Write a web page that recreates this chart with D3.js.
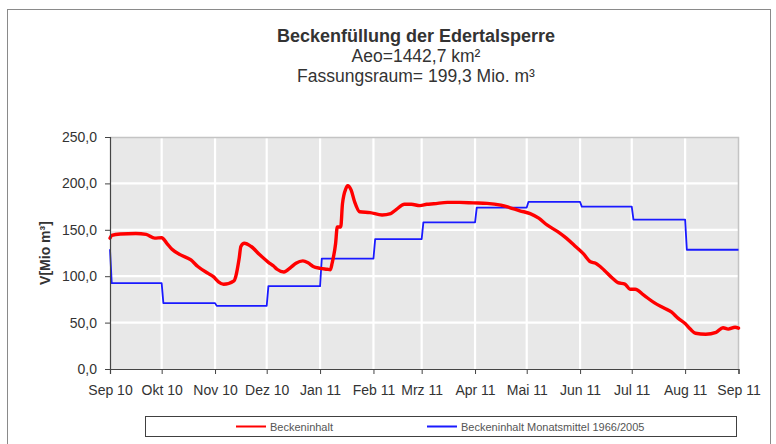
<!DOCTYPE html>
<html><head><meta charset="utf-8">
<script src="https://cdn.jsdelivr.net/npm/d3@7"></script>
<style>
body{margin:0;background:#fff}
svg{display:block}
text{font-family:Arial,"Liberation Sans",sans-serif}
</style>
</head><body>
<svg id="c" width="776" height="444"></svg>
<script>
// ---- data ----
const redDates = ["2010-09-01","2010-09-02","2010-09-07","2010-09-16","2010-09-22","2010-09-27","2010-10-01","2010-10-04","2010-10-07","2010-10-12","2010-10-18","2010-10-22","2010-10-28","2010-10-31","2010-11-03","2010-11-06","2010-11-12","2010-11-13","2010-11-15","2010-11-16","2010-11-18","2010-11-22","2010-11-27","2010-12-02","2010-12-05","2010-12-07","2010-12-11","2010-12-15","2010-12-18","2010-12-22","2010-12-25","2010-12-28","2011-01-01","2011-01-05","2011-01-07","2011-01-08","2011-01-10","2011-01-11","2011-01-13","2011-01-14","2011-01-16","2011-01-17","2011-01-19","2011-01-21","2011-01-24","2011-01-30","2011-02-06","2011-02-11","2011-02-14","2011-02-19","2011-02-23","2011-02-28","2011-03-04","2011-03-08","2011-03-16","2011-03-23","2011-03-31","2011-04-08","2011-04-16","2011-04-21","2011-04-27","2011-05-03","2011-05-08","2011-05-13","2011-05-19","2011-05-24","2011-05-29","2011-06-03","2011-06-07","2011-06-10","2011-06-15","2011-06-20","2011-06-23","2011-06-27","2011-06-30","2011-07-03","2011-07-08","2011-07-14","2011-07-20","2011-07-24","2011-07-28","2011-08-01","2011-08-04","2011-08-07","2011-08-13","2011-08-19","2011-08-23","2011-08-26","2011-08-30","2011-09-01"];
const redValues = [141,144,145.5,146,145,141,141.5,135.5,129,123,117.5,110.5,103,99.5,94,91.3,95,99.5,119,132,135.5,132,123,115,111,107.5,104.5,109.5,114,116.5,114.5,110.5,108.5,107.5,107,114,135,153,153,178,194.5,197.5,193,180.5,169.5,168.5,166,167.5,171.5,177.5,177.5,176,177.5,178,179.5,179.5,179,178.5,176.5,174,170.5,167.5,162.5,155,148,141,132.5,124,115.5,114,106.5,97.5,93,91.5,86,86,79.5,71.5,65.5,61.5,54.5,49,43,38.5,37.5,39.5,44.5,43,45,44];

const blueMonths = ["2010-09-01","2010-10-01","2010-11-01","2010-12-01","2011-01-01","2011-02-01","2011-03-01","2011-04-01","2011-05-01","2011-06-01","2011-07-01","2011-08-01","2011-09-01"];
const blueStartValue = 129;
const blueValues = [92.5,71,68,89.3,119,140,158,174,180,175,161,128.5];

const xTickDates = blueMonths;
const xTickLabels = ["Sep 10","Okt 10","Nov 10","Dez 10","Jan 11","Feb 11","Mrz 11","Apr 11","Mai 11","Jun 11","Jul 11","Aug 11","Sep 11"];
const yTickValues = [0,50,100,150,200,250];
const yTickLabels = ["0,0","50,0","100,0","150,0","200,0","250,0"];

const titleLines = ["Beckenfüllung der Edertalsperre","Aeo=1442,7 km²","Fassungsraum= 199,3 Mio. m³"];
const yTitle = "V[Mio m³]";
const seriesNames = ["Beckeninhalt","Beckeninhalt Monatsmittel 1966/2005"];

// ---- layout ----
const svg = d3.select("#c");
const P = {l:110, r:739, t:137, b:369};
const parse = d3.utcParse("%Y-%m-%d");
const x = d3.scaleUtc().domain([parse("2010-09-01"), parse("2011-09-01")]).range([P.l, P.r - 0.5]);
const y = d3.scaleLinear().domain([0,250]).range([P.b, P.t]);

// outer frame
svg.append("rect").attr("x",7.5).attr("y",9.5).attr("width",763).attr("height",450)
  .attr("fill","#fff").attr("stroke","#8a8a8a").attr("stroke-width",1);

// titles
const tSizes = [18, 17.5, 17.5], tWeights = ["bold","normal","normal"], tY = [42, 62, 82];
titleLines.forEach((t,i)=>{
  svg.append("text").attr("x",416).attr("y",tY[i]).attr("text-anchor","middle")
    .attr("font-size",tSizes[i]).attr("font-weight",tWeights[i]).attr("fill","#333").text(t);
});

// plot background
svg.append("rect").attr("x",P.l).attr("y",P.t).attr("width",P.r-P.l).attr("height",P.b-P.t)
  .attr("fill","#e8e8e8");

// grid
const g = svg.append("g");
g.selectAll("line.h").data(yTickValues.slice(1)).join("line")
  .attr("x1",P.l).attr("x2",P.r).attr("y1",d=>y(d)).attr("y2",d=>y(d))
  .attr("stroke","#fff").attr("stroke-width",2.2);
g.selectAll("line.v").data(xTickDates.slice(1,-1)).join("line")
  .attr("x1",d=>x(parse(d))).attr("x2",d=>x(parse(d))).attr("y1",P.t).attr("y2",P.b)
  .attr("stroke","#fff").attr("stroke-width",2.2);

// plot border top/right
svg.append("path").attr("d",`M${P.l},${P.t+0.5}H${P.r-0.5}V${P.b}`).attr("fill","none")
  .attr("stroke","#c4c4c4").attr("stroke-width",1.5);

// blue step series
const blueData = [{d:parse(blueMonths[0]), v:blueStartValue}];
blueValues.forEach((v,i)=>{
  blueData.push({d:d3.utcDay.offset(parse(blueMonths[i]),1), v});
  blueData.push({d:parse(blueMonths[i+1]), v});
});
const lineB = d3.line().x(d=>x(d.d)).y(d=>y(d.v));
svg.append("path").datum(blueData).attr("d",lineB).attr("fill","none")
  .attr("stroke","#1a1aff").attr("stroke-width",1.8).attr("stroke-linejoin","round");

// red series
const redData = redDates.map((d,i)=>({d:parse(d), v:redValues[i]}));
const lineR = d3.line().x(d=>x(d.d)).y(d=>y(d.v)).curve(d3.curveMonotoneX);
svg.append("path").datum(redData).attr("d",lineR).attr("fill","none")
  .attr("stroke","#ff0000").attr("stroke-width",3.4).attr("stroke-linejoin","round").attr("stroke-linecap","round");

// axes
const yAxis = d3.axisLeft(y).tickValues(yTickValues).tickSize(5).tickPadding(8)
  .tickFormat((d,i)=>yTickLabels[i]);
const ya = svg.append("g").attr("transform",`translate(${P.l},0)`).call(yAxis);
const xAxis = d3.axisBottom(x).tickValues(xTickDates.map(parse)).tickSize(5).tickPadding(11)
  .tickFormat((d,i)=>xTickLabels[i]);
const xa = svg.append("g").attr("transform",`translate(0,${P.b})`).call(xAxis);
[ya,xa].forEach(a=>{
  a.select(".domain").attr("stroke","#444").attr("stroke-width",1.2);
  a.selectAll(".tick line").attr("stroke","#444");
  a.selectAll(".tick text").attr("font-size",14).attr("fill","#333")
    .attr("font-family",'Arial,"Liberation Sans",sans-serif');
});

// y title
svg.append("text").attr("transform",`translate(50,${(P.t+P.b)/2}) rotate(-90)`)
  .attr("text-anchor","middle").attr("font-size",14).attr("font-weight","bold").attr("fill","#333")
  .text(yTitle);

// legend
const L = {x:145, y:416, w:591, h:20};
svg.append("rect").attr("x",L.x+0.5).attr("y",L.y+0.5).attr("width",L.w).attr("height",L.h)
  .attr("fill","#fff").attr("stroke","#404040").attr("stroke-width",1);
const legColors = ["#ff0000","#1a1aff"], legX = [236, 427];
seriesNames.forEach((n,i)=>{
  svg.append("line").attr("x1",legX[i]).attr("x2",legX[i]+30).attr("y1",L.y+10.5).attr("y2",L.y+10.5)
    .attr("stroke",legColors[i]).attr("stroke-width",2);
  svg.append("text").attr("x",legX[i]+34).attr("y",L.y+14.5).attr("font-size",11)
    .attr("fill","#555").text(n);
});
</script>
</body></html>
